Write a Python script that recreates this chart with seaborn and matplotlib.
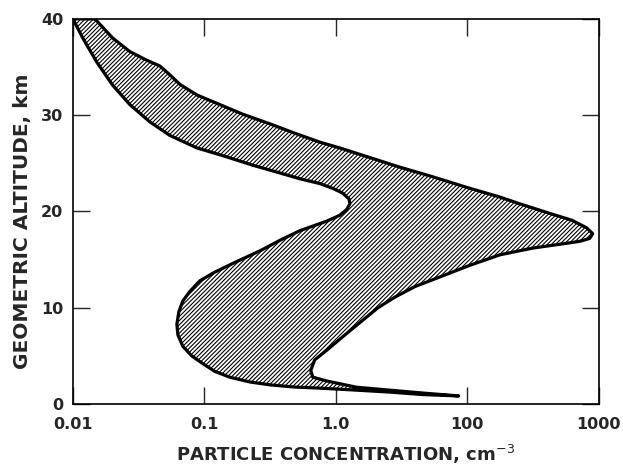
import numpy as np
import pandas as pd
import seaborn as sns
import matplotlib.pyplot as plt

# Outer (high-concentration) edge of the band: top -> peak -> lower tail
outer_conc = [0.0147, 0.0201, 0.0271, 0.0365, 0.0459, 0.0546, 0.0651, 0.0877, 0.131, 0.196,
              0.315, 0.471, 0.755, 1.07, 1.72, 3.07, 5.47, 9.91, 17.7, 23.8,
              42.4, 62.3, 81.0, 90.0, 85.3, 71.7, 57.1, 31.5, 17.7, 10.4,
              6.18, 3.99, 2.81, 2.09, 1.60, 1.13, 0.854, 0.692, 0.645, 0.668,
              0.854, 1.44, 2.57, 4.59, 8.6]
outer_alt = [40.0, 38.0, 36.6, 35.7, 35.1, 34.2, 33.2, 32.1, 31.1, 30.1,
             29.1, 28.2, 27.2, 26.6, 25.7, 24.6, 23.6, 22.5, 21.5, 20.9,
             19.8, 19.1, 18.3, 17.7, 17.2, 16.9, 16.7, 16.2, 15.5, 14.4,
             13.2, 12.2, 11.1, 10.0, 8.7, 7.0, 5.6, 4.6, 3.5, 2.8,
             2.4, 1.75, 1.45, 1.15, 0.85]

# Inner (low-concentration) edge: top -> notch at 21 km -> lower lobe -> tail
inner_conc = [0.01, 0.0119, 0.0152, 0.0201, 0.0271, 0.0385, 0.0546, 0.0877, 0.138, 0.234,
              0.315, 0.532, 0.755, 0.949, 1.13, 1.26, 1.28, 1.21, 1.07, 0.854,
              0.532, 0.375, 0.264, 0.170, 0.120, 0.0924, 0.0776, 0.0686, 0.0640, 0.0618,
              0.0629, 0.0686, 0.0803, 0.0975, 0.120, 0.156, 0.222, 0.315, 0.488, 0.755,
              1.44, 2.57, 4.59, 8.6]
inner_alt = [40.0, 38.0, 35.5, 33.1, 31.1, 29.3, 27.9, 26.6, 25.8, 24.8,
             24.3, 23.4, 22.9, 22.4, 21.9, 21.3, 20.8, 20.2, 19.6, 19.0,
             18.0, 17.0, 15.9, 14.7, 13.7, 12.8, 11.7, 10.7, 9.6, 8.3,
             7.2, 6.0, 5.0, 4.2, 3.4, 2.8, 2.3, 2.0, 1.77, 1.66,
             1.45, 1.25, 0.99, 0.85]

x_ticks = [0.01, 0.1, 1, 10, 100]
x_ticklabels = ["0.01", "0.1", "1.0", "100", "1000"]
y_ticks = [0, 10, 20, 30, 40]

sns.set_theme(style="ticks")
plt.rcParams["font.family"] = ["DejaVu Sans"]
plt.rcParams["hatch.linewidth"] = 0.8

fig = plt.figure(figsize=(6.23, 4.71), dpi=100)
ax = fig.add_axes([0.117, 0.142, 0.844, 0.818])

# hatched envelope
poly_x = outer_conc + inner_conc[::-1]
poly_y = outer_alt + inner_alt[::-1]
ax.fill(poly_x, poly_y, facecolor="white", edgecolor="black", hatch="////////", linewidth=0)

edges = pd.DataFrame({"conc": poly_x + [poly_x[0]], "alt": poly_y + [poly_y[0]]})
sns.lineplot(data=edges, x="conc", y="alt", sort=False, estimator=None,
             color="black", linewidth=2.3, ax=ax)
for ln in ax.lines:
    ln.set_solid_joinstyle("round")

ax.set_xscale("log")
ax.set_xlim(0.01, 100)
ax.set_ylim(0, 40)
ax.set_xticks(x_ticks)
ax.set_xticklabels(x_ticklabels)
ax.minorticks_off()
ax.set_yticks(y_ticks)
ax.tick_params(direction="in", length=12, width=1, top=True, right=True, labelsize=11.5)
ax.tick_params(axis="x", pad=9)
ax.tick_params(axis="y", pad=7)
for lab in ax.get_xticklabels() + ax.get_yticklabels():
    lab.set_fontweight("bold")
for s in ax.spines.values():
    s.set_linewidth(1.2)
    s.set_color("black")

ax.set_xlabel("PARTICLE CONCENTRATION, cm$^{-3}$", fontsize=13, fontweight="bold")
ax.xaxis.set_label_coords(0.519, -0.10)
ax.set_ylabel("GEOMETRIC ALTITUDE, km", fontsize=14.5, fontweight="bold")
ax.yaxis.set_label_coords(-0.078, 0.475)

fig.savefig("out.png", dpi=100)
